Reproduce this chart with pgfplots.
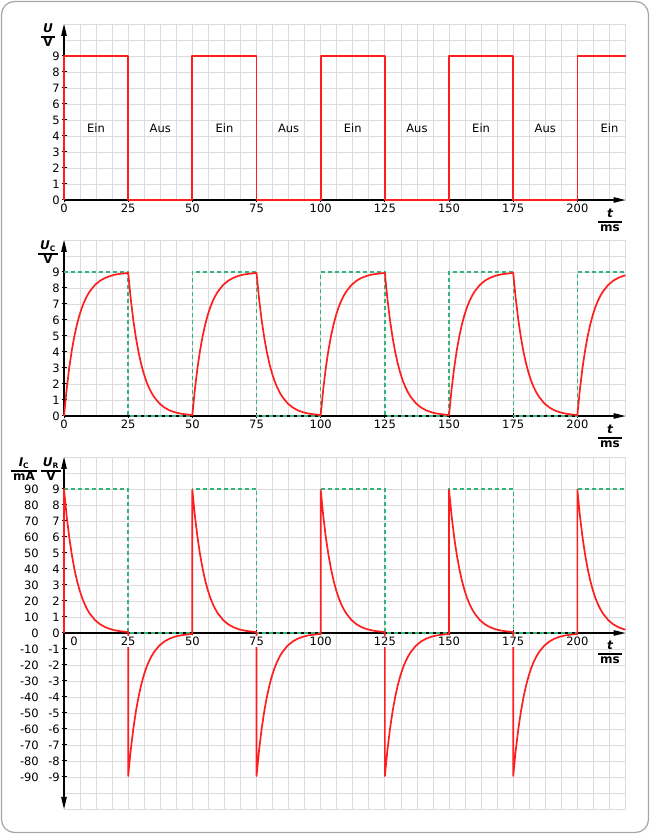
\documentclass[border=0pt]{standalone}
\usepackage{pgfplots}
\pgfplotsset{compat=1.18}
\usepackage{fontspec}
\setmainfont{DejaVu Sans}
\usetikzlibrary{arrows.meta}
\definecolor{cred}{RGB}{255,30,30}
\definecolor{cgreen}{RGB}{50,180,120}
\definecolor{cgrid}{RGB}{220,220,220}
\definecolor{cborder}{RGB}{165,165,165}
\newcommand{\ufrac}[2]{{\setlength{\arrayrulewidth}{1.3pt}\renewcommand{\arraystretch}{0.95}\bfseries\begin{tabular}{@{\hspace{1.8pt}}c@{\hspace{1.8pt}}}#1\\\hline#2\end{tabular}}}
\newcommand{\sub}[1]{\textsubscript{\fontsize{7.5}{8}\selectfont #1}}
\tikzset{lbl/.style={font=\fontsize{11.5}{13}\selectfont}, ulbl/.style={font=\fontsize{12}{14}\selectfont}}
\pgfplotsset{
  layers/mine/.define layer set={axis background,axis grid,axis ticks,axis lines,pre main,main,axis tick labels,axis descriptions,axis foreground}{
    grid style={/pgfplots/on layer=axis grid},
    tick style={/pgfplots/on layer=axis ticks},
    axis line style={/pgfplots/on layer=axis lines},
    label style={/pgfplots/on layer=axis descriptions},
    legend style={/pgfplots/on layer=axis descriptions},
    title style={/pgfplots/on layer=axis descriptions},
    colorbar style={/pgfplots/on layer=axis descriptions},
    ticklabel style={/pgfplots/on layer=axis tick labels},
    axis background@ style={/pgfplots/on layer=axis background},
    3d box foreground style={/pgfplots/on layer=axis foreground},
  },
  set layers=mine,
  myaxis/.style={
    scale only axis, width=561.5pt,
    xmin=0, xmax=218.75,
    xtick={0,25,...,200}, minor xtick={0,6.25,...,218.75},
    xticklabels={0,25,50,75,100,125,150,175,200},
    grid=both,
    major grid style={cgrid, line width=0.8pt},
    minor grid style={cgrid, line width=0.8pt},
    major tick length=5pt, minor tick length=0pt,
    tick align=outside,
    tick style={black, line width=1pt},
    axis line style={black, line width=1.2pt},
    ticklabel style={font=\fontsize{11.5}{13}\selectfont, fill=white, inner sep=1.5pt},
    hide obscured x ticks=false, hide obscured y ticks=false,
    clip=false,
  },
  redline/.style={cred, line width=1.7pt, line join=round},
  greenline/.style={cgreen, line width=1.4pt, dash pattern=on 4pt off 3pt},
}
\begin{document}
\begin{tikzpicture}
\path (0,0) rectangle (650pt,834pt);
\draw[cborder, line width=1.2pt, rounded corners=13pt] (1.5pt,1.5pt) rectangle (648.5pt,832.5pt);

% ---------- top panel ----------
\begin{axis}[myaxis, at={(64pt,634pt)}, anchor=south west, height=176pt,
  ymin=0, ymax=11, ytick={0,...,9}, minor ytick={0,...,11},
  yticklabels={0,1,2,3,4,5,6,7,8,9},
  axis lines=left,
  axis line style={-{Triangle[length=12pt,width=5.5pt]}}]
\addplot[redline] coordinates {(0,0)(0,9)(25,9)(25,0)(50,0)(50,9)(75,9)(75,0)(100,0)(100,9)(125,9)(125,0)(150,0)(150,9)(175,9)(175,0)(200,0)(200,9)(218.75,9)};
\node[lbl] at (axis cs:12.5,4.5) {Ein};
\node[lbl] at (axis cs:37.5,4.5) {Aus};
\node[lbl] at (axis cs:62.5,4.5) {Ein};
\node[lbl] at (axis cs:87.5,4.5) {Aus};
\node[lbl] at (axis cs:112.5,4.5) {Ein};
\node[lbl] at (axis cs:137.5,4.5) {Aus};
\node[lbl] at (axis cs:162.5,4.5) {Ein};
\node[lbl] at (axis cs:187.5,4.5) {Aus};
\node[lbl] at (axis cs:212.5,4.5) {Ein};
\end{axis}

% ---------- middle panel ----------
\begin{axis}[myaxis, at={(64pt,418pt)}, anchor=south west, height=176pt,
  ymin=0, ymax=11, ytick={0,...,9}, minor ytick={0,...,11},
  yticklabels={0,1,2,3,4,5,6,7,8,9},
  axis lines=left,
  axis line style={-{Triangle[length=12pt,width=5.5pt]}}]
\addplot[greenline] coordinates {(0,9)(25,9)(25,0)(50,0)(50,9)(75,9)(75,0)(100,0)(100,9)(125,9)(125,0)(150,0)(150,9)(175,9)(175,0)(200,0)(200,9)(218.75,9)};
\addplot[redline] coordinates {
(0,0)(1,1.63)(2,2.97)(3,4.06)(4,4.96)(5,5.69)(6,6.29)(7,6.78)(8,7.18)(9,7.51)(10,7.78)(12,8.18)(14,8.45)(16,8.63)(18,8.75)(20,8.84)(22,8.89)(25,8.94)
(26,7.32)(27,5.99)(28,4.91)(29,4.02)(30,3.29)(31,2.69)(32,2.20)(33,1.80)(34,1.48)(35,1.21)(37,0.81)(39,0.54)(41,0.36)(43,0.24)(45,0.16)(47,0.11)(50,0.06)
(51,1.68)(52,3.01)(53,4.09)(54,4.98)(55,5.71)(56,6.31)(57,6.80)(58,7.20)(59,7.52)(60,7.79)(62,8.19)(64,8.46)(66,8.64)(68,8.76)(70,8.84)(72,8.89)(75,8.94)
(76,7.32)(77,5.99)(78,4.91)(79,4.02)(80,3.29)(81,2.69)(82,2.20)(83,1.80)(84,1.48)(85,1.21)(87,0.81)(89,0.54)(91,0.36)(93,0.24)(95,0.16)(97,0.11)(100,0.06)
(101,1.68)(102,3.01)(103,4.09)(104,4.98)(105,5.71)(106,6.31)(107,6.80)(108,7.20)(109,7.52)(110,7.79)(112,8.19)(114,8.46)(116,8.64)(118,8.76)(120,8.84)(122,8.89)(125,8.94)
(126,7.32)(127,5.99)(128,4.91)(129,4.02)(130,3.29)(131,2.69)(132,2.20)(133,1.80)(134,1.48)(135,1.21)(137,0.81)(139,0.54)(141,0.36)(143,0.24)(145,0.16)(147,0.11)(150,0.06)
(151,1.68)(152,3.01)(153,4.09)(154,4.98)(155,5.71)(156,6.31)(157,6.80)(158,7.20)(159,7.52)(160,7.79)(162,8.19)(164,8.46)(166,8.64)(168,8.76)(170,8.84)(172,8.89)(175,8.94)
(176,7.32)(177,5.99)(178,4.91)(179,4.02)(180,3.29)(181,2.69)(182,2.20)(183,1.80)(184,1.48)(185,1.21)(187,0.81)(189,0.54)(191,0.36)(193,0.24)(195,0.16)(197,0.11)(200,0.06)
(201,1.68)(202,3.01)(203,4.09)(204,4.98)(205,5.71)(206,6.31)(207,6.80)(208,7.20)(209,7.52)(210,7.79)(212,8.19)(214,8.46)(216,8.64)(218,8.76)(218.75,8.79)};
\end{axis}

% ---------- bottom panel ----------
\begin{axis}[myaxis, at={(64pt,25pt)}, anchor=south west, height=352pt,
  ymin=-11, ymax=11, ytick={-9,...,9}, minor ytick={-11,...,11},
  xtick={25,50,...,200}, xticklabels={25,50,75,100,125,150,175,200},
  extra x ticks={0}, extra x tick labels={0},
  extra x tick style={xticklabel style={fill=none, xshift=10pt}},
  yticklabels={
    {\makebox[0pt][r]{-90}\makebox[21pt][r]{-9}},
    {\makebox[0pt][r]{-80}\makebox[21pt][r]{-8}},
    {\makebox[0pt][r]{-70}\makebox[21pt][r]{-7}},
    {\makebox[0pt][r]{-60}\makebox[21pt][r]{-6}},
    {\makebox[0pt][r]{-50}\makebox[21pt][r]{-5}},
    {\makebox[0pt][r]{-40}\makebox[21pt][r]{-4}},
    {\makebox[0pt][r]{-30}\makebox[21pt][r]{-3}},
    {\makebox[0pt][r]{-20}\makebox[21pt][r]{-2}},
    {\makebox[0pt][r]{-10}\makebox[21pt][r]{-1}},
    {\makebox[0pt][r]{0}\makebox[21pt][r]{0}},
    {\makebox[0pt][r]{10}\makebox[21pt][r]{1}},
    {\makebox[0pt][r]{20}\makebox[21pt][r]{2}},
    {\makebox[0pt][r]{30}\makebox[21pt][r]{3}},
    {\makebox[0pt][r]{40}\makebox[21pt][r]{4}},
    {\makebox[0pt][r]{50}\makebox[21pt][r]{5}},
    {\makebox[0pt][r]{60}\makebox[21pt][r]{6}},
    {\makebox[0pt][r]{70}\makebox[21pt][r]{7}},
    {\makebox[0pt][r]{80}\makebox[21pt][r]{8}},
    {\makebox[0pt][r]{90}\makebox[21pt][r]{9}}},
  axis x line=middle, axis y line=left,
  x axis line style={-{Triangle[length=12pt,width=5.5pt]}},
  y axis line style={{Triangle[length=12pt,width=5.5pt]}-{Triangle[length=12pt,width=5.5pt]}}]
\addplot[greenline] coordinates {(0,9)(25,9)(25,0)(50,0)(50,9)(75,9)(75,0)(100,0)(100,9)(125,9)(125,0)(150,0)(150,9)(175,9)(175,0)(200,0)(200,9)(218.75,9)};
\addplot[redline] coordinates {
(0,0)(0,9)(1,7.37)(2,6.03)(3,4.94)(4,4.04)(5,3.31)(6,2.71)(7,2.22)(8,1.82)(9,1.49)(10,1.22)(12,0.82)(14,0.55)(16,0.37)(18,0.25)(20,0.16)(22,0.11)(25,0.06)
(25,-8.94)(26,-7.32)(27,-5.99)(28,-4.91)(29,-4.02)(30,-3.29)(31,-2.69)(32,-2.20)(33,-1.80)(34,-1.48)(35,-1.21)(37,-0.81)(39,-0.54)(41,-0.36)(43,-0.24)(45,-0.16)(47,-0.11)(50,-0.06)
(50,8.94)(51,7.32)(52,5.99)(53,4.91)(54,4.02)(55,3.29)(56,2.69)(57,2.20)(58,1.80)(59,1.48)(60,1.21)(62,0.81)(64,0.54)(66,0.36)(68,0.24)(70,0.16)(72,0.11)(75,0.06)
(75,-8.94)(76,-7.32)(77,-5.99)(78,-4.91)(79,-4.02)(80,-3.29)(81,-2.69)(82,-2.20)(83,-1.80)(84,-1.48)(85,-1.21)(87,-0.81)(89,-0.54)(91,-0.36)(93,-0.24)(95,-0.16)(97,-0.11)(100,-0.06)
(100,8.94)(101,7.32)(102,5.99)(103,4.91)(104,4.02)(105,3.29)(106,2.69)(107,2.20)(108,1.80)(109,1.48)(110,1.21)(112,0.81)(114,0.54)(116,0.36)(118,0.24)(120,0.16)(122,0.11)(125,0.06)
(125,-8.94)(126,-7.32)(127,-5.99)(128,-4.91)(129,-4.02)(130,-3.29)(131,-2.69)(132,-2.20)(133,-1.80)(134,-1.48)(135,-1.21)(137,-0.81)(139,-0.54)(141,-0.36)(143,-0.24)(145,-0.16)(147,-0.11)(150,-0.06)
(150,8.94)(151,7.32)(152,5.99)(153,4.91)(154,4.02)(155,3.29)(156,2.69)(157,2.20)(158,1.80)(159,1.48)(160,1.21)(162,0.81)(164,0.54)(166,0.36)(168,0.24)(170,0.16)(172,0.11)(175,0.06)
(175,-8.94)(176,-7.32)(177,-5.99)(178,-4.91)(179,-4.02)(180,-3.29)(181,-2.69)(182,-2.20)(183,-1.80)(184,-1.48)(185,-1.21)(187,-0.81)(189,-0.54)(191,-0.36)(193,-0.24)(195,-0.16)(197,-0.11)(200,-0.06)
(200,8.94)(201,7.32)(202,5.99)(203,4.91)(204,4.02)(205,3.29)(206,2.69)(207,2.20)(208,1.80)(209,1.48)(210,1.21)(212,0.81)(214,0.54)(216,0.36)(218,0.24)(218.75,0.21)};
\end{axis}

% ---------- axis unit labels ----------
\node[ulbl] at (48pt,797pt) {\ufrac{\itshape U}{V}};
\node[ulbl] at (48pt,580pt) {\ufrac{{\itshape U}\sub{C}}{V}};
\node[ulbl] at (24pt,363pt) {\ufrac{{\itshape I}\sub{C}}{mA}};
\node[ulbl] at (51pt,363pt) {\ufrac{{\itshape U}\sub{R}}{V}};
\node[ulbl] at (610pt,612pt) {\ufrac{\itshape t}{ms}};
\node[ulbl] at (610pt,396pt) {\ufrac{\itshape t}{ms}};
\node[ulbl] at (610pt,180pt) {\ufrac{\itshape t}{ms}};
\end{tikzpicture}
\end{document}
